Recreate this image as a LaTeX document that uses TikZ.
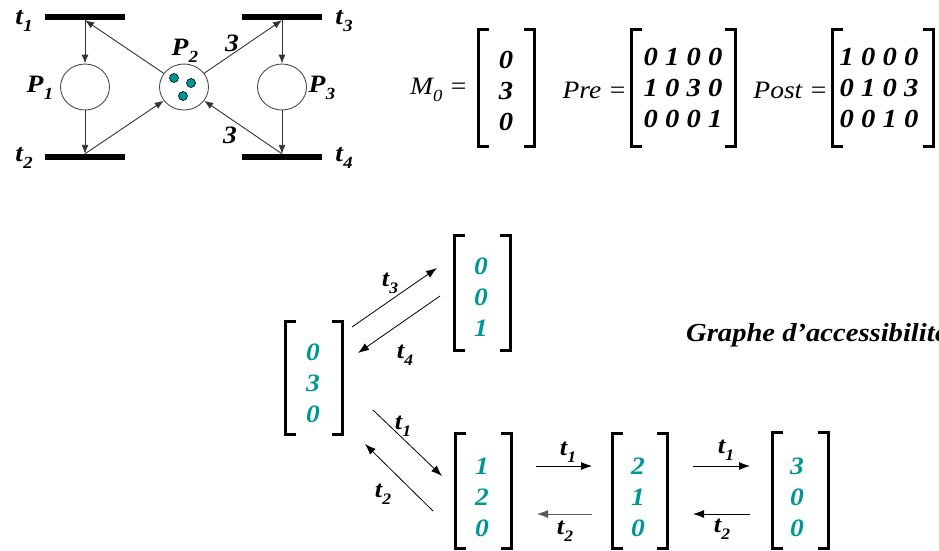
\documentclass[tikz,border=0pt]{standalone}
\usepackage{fontspec}
\setmainfont{Liberation Serif}[FakeStretch=1.1]
\usetikzlibrary{arrows.meta,calc,shapes.geometric}
\definecolor{tealc}{RGB}{0,150,150}
\newcommand\tsub[2]{t\kern0.3pt\raisebox{-0.3em}{\fontsize{#1}{#1}\selectfont #2}}
\newcommand\brk[4]{%
  \draw[brk] (#1+9,#3) -- (#1,#3) -- (#1,#4) -- (#1+9,#4);
  \draw[brk] (#2-9,#3) -- (#2,#3) -- (#2,#4) -- (#2-9,#4);}
\begin{document}
\begin{tikzpicture}[x=1pt,y=-1pt,
  bar/.style={fill=black, minimum width=80pt, minimum height=6pt, inner sep=0},
  place/.style={ellipse, draw=gray!60!black, line width=0.9pt, minimum width=49pt, minimum height=46pt, inner sep=0},
  token/.style={circle, fill=tealc, draw=black, line width=0.6pt, minimum size=9pt, inner sep=0},
  arc/.style={draw=gray!40!black, line width=0.9pt, -{Latex[length=9pt,width=7pt]}},
  garc/.style={draw=black, line width=0.8pt, -{Latex[length=11pt,width=8pt]}},
  brk/.style={line width=3pt, line join=miter, line cap=rect},
  lab/.style={font=\fontsize{25}{25}\selectfont\bfseries\itshape, inner sep=0},
  glab/.style={font=\fontsize{24}{24}\selectfont\bfseries\itshape, inner sep=0},
  eqlab/.style={font=\fontsize{25}{25}\selectfont\itshape, inner sep=0},
  vec/.style={align=center, font=\fontsize{26}{31}\selectfont\bfseries\itshape, inner sep=0},
  tvec/.style={vec, text=tealc, font=\fontsize{25}{31}\selectfont\bfseries\itshape},
]
\useasboundingbox (0,0) rectangle (939,550);
\clip (0,0) rectangle (939,550);
% ---------- Petri net ----------
\node[bar] (T1) at (85,17) {};
\node[bar] (T3) at (282,17) {};
\node[bar] (T2) at (85,157) {};
\node[bar] (T4) at (282,157) {};
\node[place] (P1) at (85,87) {};
\node[place] (P2) at (184,87) {};
\node[place] (P3) at (282,87) {};
\node[token] (k1) at (174,78) {};
\node[token] (k2) at (191,83) {};
\node[token] (k3) at (183,96) {};
\draw[arc] (T1) -- (P1);
\draw[arc] (P1) -- (T2);
\draw[arc] (P2) -- (T1.south);
\draw[arc] (T2.north) -- (P2);
\draw[arc] (P2) -- (T3.south);
\draw[arc] (T3) -- (P3);
\draw[arc] (P3) -- (T4);
\draw[arc] (T4.north) -- (P2);
\node[lab] (lt1) at (24,21) {\tsub{17}{1}};
\node[lab] (lt2) at (24,158) {\tsub{17}{2}};
\node[lab] (lt3) at (344,21) {\tsub{17}{3}};
\node[lab] (lt4) at (344,158) {\tsub{17}{4}};
\node[lab] (lp1) at (40,88) {P\kern0.5pt\raisebox{-0.3em}{\fontsize{17}{17}\selectfont 1}};
\node[lab] (lp2) at (185,51) {P\kern0.5pt\raisebox{-0.3em}{\fontsize{17}{17}\selectfont 2}};
\node[lab] (lp3) at (322,88) {P\kern0.5pt\raisebox{-0.3em}{\fontsize{17}{17}\selectfont 3}};
\node[lab] (w1) at (232,43) {3};
\node[lab] (w2) at (230,135) {3};
% ---------- matrices ----------
\node[eqlab, anchor=east] (eqm) at (468,90) {M\raisebox{-0.3em}{\fontsize{17}{17}\selectfont 0} =};
\node[vec] (m0) at (506,91) {0\\3\\0};
\brk{478}{534}{29}{146}
\node[eqlab, anchor=east] (eqpre) at (627,90) {Pre =};
\node[vec] (pre) at (683,88) {0 1 0 0\\1 0 3 0\\0 0 0 1};
\brk{631}{735}{29}{146}
\node[eqlab, anchor=east] (eqpost) at (828,90) {Post =};
\node[vec] (post) at (879,88) {1 0 0 0\\0 1 0 3\\0 0 1 0};
\brk{832}{933}{29}{146}
% ---------- accessibility graph ----------
\node[tvec] (a) at (313,383) {0\\3\\0};
\brk{285}{342}{321}{434}
\node[tvec] (b) at (481,297) {0\\0\\1};
\brk{454}{510}{235}{350}
\node[tvec] (c) at (482,497) {1\\2\\0};
\brk{455}{511}{433}{548}
\node[tvec] (d) at (638,497) {2\\1\\0};
\brk{612}{667}{433}{548}
\node[tvec] (e) at (797,497) {3\\0\\0};
\brk{772}{828}{432}{548}
\coordinate (a3s) at (352,327); \coordinate (a3e) at (437,268);
\coordinate (a4s) at (440,296); \coordinate (a4e) at (358,353);
\coordinate (a1s) at (373,410); \coordinate (a1e) at (442,476);
\coordinate (a2s) at (433,511); \coordinate (a2e) at (365,444);
\coordinate (b1s) at (536,466); \coordinate (b1e) at (592,466);
\coordinate (b2s) at (592,514); \coordinate (b2e) at (537,514);
\coordinate (c1s) at (693,466); \coordinate (c1e) at (750,466);
\coordinate (c2s) at (750,514); \coordinate (c2e) at (693,514);
\draw[garc] (a3s) -- (a3e);
\draw[garc] (a4s) -- (a4e);
\draw[garc] (a1s) -- (a1e);
\draw[garc] (a2s) -- (a2e);
\draw[garc] (b1s) -- (b1e);
\draw[garc, draw=gray!70!black] (b2s) -- (b2e);
\draw[garc] (c1s) -- (c1e);
\draw[garc] (c2s) -- (c2e);
\node[glab] (g3) at (390,283) {\tsub{16}{3}};
\node[glab] (g4) at (405,355) {\tsub{16}{4}};
\node[glab] (g1) at (403,426) {\tsub{16}{1}};
\node[glab] (g2) at (383,494) {\tsub{16}{2}};
\node[glab] (h1) at (568,452) {\tsub{16}{1}};
\node[glab] (h2) at (565,531) {\tsub{16}{2}};
\node[glab] (i1) at (726,450) {\tsub{16}{1}};
\node[glab] (i2) at (722,529) {\tsub{16}{2}};
\node[font=\fontsize{26}{26}\selectfont\bfseries\itshape, anchor=west, inner sep=0] (gr) at (686,335) {Graphe d’accessibilité};
\end{tikzpicture}
\end{document}
